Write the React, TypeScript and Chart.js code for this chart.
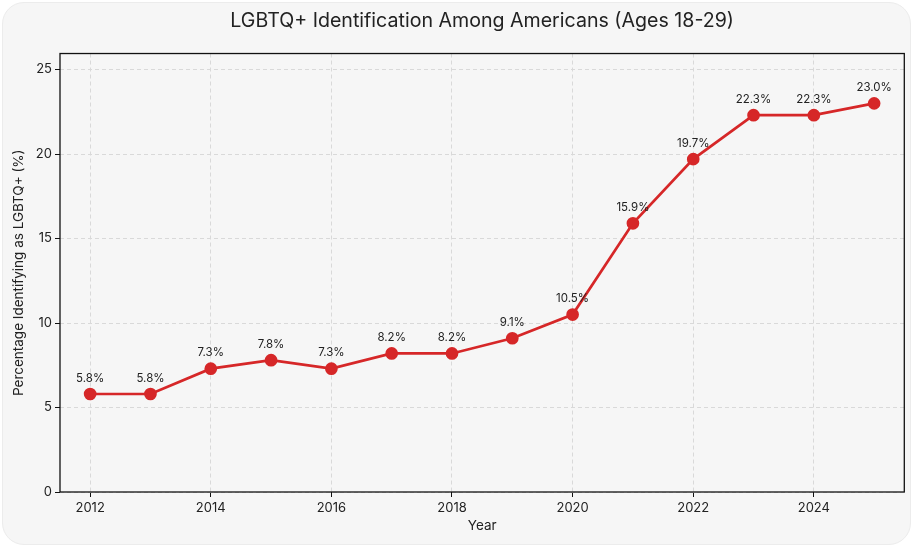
import React, { useRef, useEffect } from "react";
import Chart, { ChartConfiguration, Plugin } from "chart.js/auto";

const years = [2012, 2013, 2014, 2015, 2016, 2017, 2018, 2019, 2020, 2021, 2022, 2023, 2024, 2025];
const percentages = [5.8, 5.8, 7.3, 7.8, 7.3, 8.2, 8.2, 9.1, 10.5, 15.9, 19.7, 22.3, 22.3, 23.0];
const xTicks = [2012, 2014, 2016, 2018, 2020, 2022, 2024];
const yTicks = [0, 5, 10, 15, 20, 25];

const FONT = "Inter, 'Open Sans', sans-serif";
const RED = "#d62728";

// frame round the plot area, like a matplotlib box
const framePlugin: Plugin<"line"> = {
  id: "frame",
  afterDraw(chart) {
    const { ctx, chartArea } = chart;
    ctx.save();
    ctx.strokeStyle = "#111";
    ctx.lineWidth = 1.3;
    ctx.strokeRect(chartArea.left, chartArea.top, chartArea.right - chartArea.left, chartArea.bottom - chartArea.top);
    ctx.restore();
  },
};

const labelPlugin: Plugin<"line"> = {
  id: "pointLabels",
  afterDatasetsDraw(chart) {
    const { ctx } = chart;
    const meta = chart.getDatasetMeta(0);
    ctx.save();
    ctx.font = `11.5px ${FONT}`;
    ctx.fillStyle = "#222";
    ctx.textAlign = "center";
    ctx.textBaseline = "bottom";
    meta.data.forEach((pt, i) => {
      ctx.fillText(percentages[i].toFixed(1) + "%", pt.x, pt.y - 10);
    });
    ctx.restore();
  },
};

const LgbtqChart = () => {
  const chartRef = useRef<HTMLCanvasElement>(null);
  const chartInstanceRef = useRef<Chart>();

  useEffect(() => {
    document.body.style.margin = "0";
    const ctx = chartRef.current!.getContext("2d");

    if (chartInstanceRef.current) {
      chartInstanceRef.current.destroy();
    }

    const config: ChartConfiguration<"line"> = {
      type: "line",
      data: {
        datasets: [
          {
            label: "LGBTQ+",
            data: years.map((y, i) => ({ x: y, y: percentages[i] })),
            borderColor: RED,
            backgroundColor: RED,
            borderWidth: 2.7,
            pointRadius: 5,
            pointHoverRadius: 5,
            tension: 0,
          },
        ],
      },
      options: {
        animation: false,
        responsive: false,
        layout: { padding: { left: 11, right: 5, top: 0, bottom: 12 } },
        plugins: {
          legend: { display: false },
          tooltip: { enabled: false },
          title: {
            display: true,
            fullSize: false,
            text: "LGBTQ+ Identification Among Americans (Ages 18-29)",
            color: "#222",
            font: { family: FONT, size: 19.6, weight: "normal" },
            padding: { top: 9, bottom: 21 },
          },
        },
        scales: {
          x: {
            type: "linear",
            min: 2011.5,
            max: 2025.5,
            afterBuildTicks: (axis) => {
              axis.ticks = xTicks.map((v) => ({ value: v }));
            },
            afterFit: (axis) => {
              axis.height = 42;
            },
            ticks: {
              color: "#222",
              font: { family: FONT, size: 13 },
              padding: 3,
              callback: (v) => String(v),
            },
            grid: {
              color: "#d9d9d9",
              tickColor: "#111",
              tickLength: 5,
            },
            border: { display: false, dash: [4, 3] },
            title: {
              display: true,
              text: "Year",
              color: "#222",
              font: { family: FONT, size: 13.5 },
              padding: { top: 0, bottom: 0 },
            },
          },
          y: {
            type: "linear",
            min: 0,
            max: 25.95,
            afterBuildTicks: (axis) => {
              axis.ticks = yTicks.map((v) => ({ value: v }));
            },
            afterFit: (axis) => {
              axis.width = 49;
            },
            ticks: {
              color: "#222",
              font: { family: FONT, size: 13 },
              padding: 3,
            },
            grid: {
              color: "#d9d9d9",
              tickColor: "#111",
              tickLength: 5,
            },
            border: { display: false, dash: [4, 3] },
            title: {
              display: true,
              text: "Percentage Identifying as LGBTQ+ (%)",
              color: "#222",
              font: { family: FONT, size: 13.5 },
              padding: { top: 0, bottom: 0 },
            },
          },
        },
      },
      plugins: [framePlugin, labelPlugin],
    };

    if (ctx) {
      chartInstanceRef.current = new Chart(ctx, config);
    }

    return () => {
      if (chartInstanceRef.current) {
        chartInstanceRef.current.destroy();
      }
    };
  }, []);

  return (
    <div style={{ width: "912px", height: "546px", background: "#fff", position: "relative" }}>
      <div
        style={{
          position: "absolute",
          left: "2px",
          top: "2px",
          width: "907px",
          height: "541px",
          background: "#f6f6f6",
          borderRadius: "22px",
          border: "1px solid #ececec",
        }}
      />
      <canvas
        ref={chartRef}
        width={912}
        height={546}
        style={{ position: "absolute", left: 0, top: 0, width: "912px", height: "546px" }}
      />
    </div>
  );
};

export default function App() {
  return <LgbtqChart />;
}
